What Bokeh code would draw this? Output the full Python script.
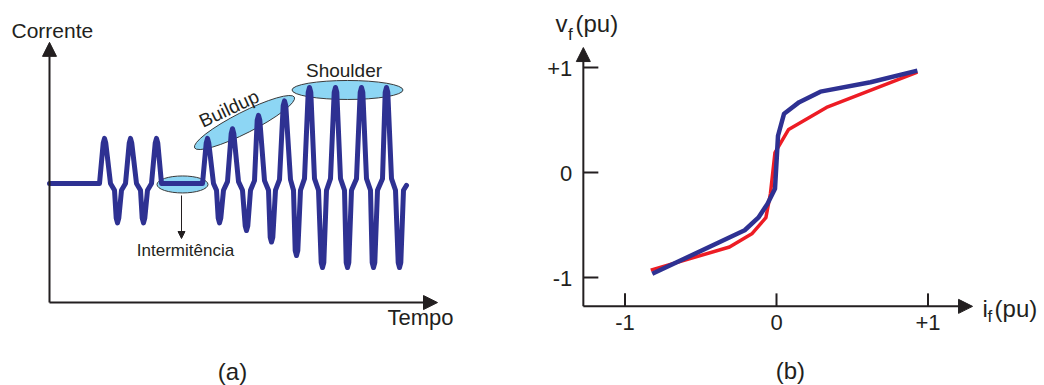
import math
from bokeh.plotting import figure
from bokeh.layouts import row
from bokeh.models import Range1d, Arrow, NormalHead
from bokeh.core.properties import value
from bokeh.embed import file_html
from bokeh.resources import INLINE

# ---------------- data ----------------
# (a) schematic current vs time (arbitrary units), vertices of the waveform
wave_t = [0, 50,
          53.7, 55, 56.3, 61, 65, 66.7, 68, 69.3, 72, 76,
          79.7, 81, 82.3, 87, 91, 92.7, 94, 95.3, 98, 102,
          105.7, 107, 108.3, 112, 153,
          156.7, 158, 159.3, 164, 167, 168.7, 170, 171.3, 174, 178,
          181.7, 183, 184.3, 189, 193, 195.7, 197, 198.3, 201, 205,
          207.7, 209, 210.3, 215, 219, 220.7, 222, 223.3, 226, 230,
          233.7, 235, 236.3, 241, 244, 245.7, 247, 248.3, 251, 255,
          258.7, 260, 261.3, 265, 269, 271.7, 273, 274.3, 277, 281,
          284.7, 286, 287.3, 291, 295, 296.7, 298, 299.3, 302, 307,
          310.7, 312, 313.3, 317, 321, 322.7, 324, 325.3, 328, 333,
          335.7, 337, 338.3, 342, 346, 348.7, 350, 351.3, 354, 357]
wave_i = [0, 0,
          0.42, 0.47, 0.42, 0, -0.07, -0.36, -0.41, -0.36, -0.07, 0,
          0.42, 0.47, 0.42, 0, -0.07, -0.36, -0.41, -0.36, -0.07, 0,
          0.42, 0.47, 0.42, 0, 0,
          0.42, 0.47, 0.42, 0, -0.07, -0.36, -0.41, -0.36, -0.07, 0.02,
          0.52, 0.57, 0.52, 0.02, -0.07, -0.44, -0.49, -0.44, -0.07, 0.03,
          0.66, 0.71, 0.66, 0.03, -0.07, -0.56, -0.61, -0.56, -0.07, 0.04,
          0.81, 0.86, 0.81, 0.04, -0.07, -0.70, -0.75, -0.70, -0.07, 0.05,
          0.95, 1.0, 0.95, 0.05, -0.07, -0.825, -0.875, -0.825, -0.07, 0.05,
          0.95, 1.0, 0.95, 0.05, -0.07, -0.825, -0.875, -0.825, -0.07, 0.05,
          0.95, 1.0, 0.95, 0.05, -0.07, -0.825, -0.875, -0.825, -0.07, 0.05,
          0.95, 1.0, 0.95, 0.05, -0.07, -0.825, -0.875, -0.825, -0.07, -0.02]

# (b) v_f versus i_f characteristics (pu)
red_if = [-0.83, -0.31, -0.16, -0.07, -0.04, -0.01, 0.08, 0.33, 0.93]
red_vf = [-0.93, -0.71, -0.58, -0.43, -0.20, 0.19, 0.41, 0.62, 0.955]
blue_if = [-0.82, -0.21, -0.12, -0.06, -0.01, 0.01, 0.05, 0.15, 0.29, 0.62, 0.93]
blue_vf = [-0.965, -0.55, -0.43, -0.30, -0.155, 0.35, 0.56, 0.67, 0.77, 0.86, 0.97]

tick_vals = [-1, 0, 1]
tick_labels = ["-1", "0", "+1"]

# ---------------- styles ----------------
AX = "#231f20"
BLUE = "#2e3192"
RED = "#ed1c24"
FILL = "#8dd6f4"
FONT = value("Liberation Sans")


def make_fig(xr, yr):
    p = figure(width=522, height=385, x_range=Range1d(*xr), y_range=Range1d(*yr),
               output_backend="svg", toolbar_location=None,
               x_axis_type=None, y_axis_type=None, min_border=0,
               outline_line_color=None, background_fill_color="white",
               border_fill_color="white")
    return p


def txt(p, x, y, s, size, align="left", baseline="middle", angle=0.0,
        xo=0, yo=0):
    p.text(x=[x], y=[y], text=[s], text_font=FONT, text_font_size=size,
           text_color=AX, text_align=align, text_baseline=baseline,
           angle=angle, x_offset=xo, y_offset=yo)


# ---------------- panel (a) ----------------
pa = make_fig((-49, 473), (-2.104, 1.906))
ax0_y = -1.24
pa.add_layout(Arrow(end=NormalHead(size=14, fill_color=AX, line_color=AX),
                    x_start=0, y_start=ax0_y, x_end=0, y_end=1.47,
                    line_width=2, line_color=AX))
pa.add_layout(Arrow(end=NormalHead(size=14, fill_color=AX, line_color=AX),
                    x_start=0, y_start=ax0_y, x_end=388, y_end=ax0_y,
                    line_width=2, line_color=AX))

# highlight ellipses
pa.ellipse(x=[133, 195, 298], y=[-0.01, 0.635, 0.974],
           width=[51, 112, 111], height=[17, 21, 19],
           angle=[0, 0.47, 0],
           width_units="screen", height_units="screen",
           fill_color=FILL, line_color="#3a3a3a", line_width=1)

pa.line(wave_t, wave_i, line_color=BLUE, line_width=5, line_join="round",
        line_cap="round")

pa.add_layout(Arrow(end=NormalHead(size=7, fill_color=AX, line_color=AX),
                    x_start=132, y_start=-0.125, x_end=132, y_end=-0.573,
                    line_width=1, line_color=AX))

txt(pa, -38, 1.594, "Corrente", "21px")
txt(pa, 338, -1.391, "Tempo", "22px")
txt(pa, 294.5, 1.182, "Shoulder", "19px", align="center")
txt(pa, 179.5, 0.78, "Buildup", "19px", align="center", angle=0.44)
txt(pa, 136, -0.703, "Intermitência", "17px", align="center")
txt(pa, 183, -1.953, "(a)", "24px", align="center")

# ---------------- panel (b) ----------------
pb = make_fig((-1.6766, 1.7690), (-2.0286, 1.6381))
org = -1.275
pb.add_layout(Arrow(end=NormalHead(size=14, fill_color=AX, line_color=AX),
                    x_start=org, y_start=org, x_end=org, y_end=1.19,
                    line_width=2, line_color=AX))
pb.add_layout(Arrow(end=NormalHead(size=14, fill_color=AX, line_color=AX),
                    x_start=org, y_start=org, x_end=1.294, y_end=org,
                    line_width=2, line_color=AX))

# ticks (inward) and tick labels
pb.ray(x=[org] * len(tick_vals), y=tick_vals, length=15, length_units="screen",
       angle=0, line_color=AX, line_width=2)
pb.ray(x=tick_vals, y=[org] * len(tick_vals), length=13, length_units="screen",
       angle=math.pi / 2, line_color=AX, line_width=2)
pb.text(x=[org] * len(tick_vals), y=tick_vals, text=tick_labels, text_font=FONT,
        text_font_size="22px", text_color=AX, text_align="right",
        text_baseline="middle", x_offset=-11, y_offset=1)
pb.text(x=tick_vals, y=[org] * len(tick_vals), text=tick_labels, text_font=FONT,
        text_font_size="22px", text_color=AX, text_align="center",
        text_baseline="top", y_offset=9)

pb.line(red_if, red_vf, line_color=RED, line_width=3.5, line_join="round")
pb.line(blue_if, blue_vf, line_color=BLUE, line_width=4.5, line_join="round")

# axis titles with subscripts
txt(pb, -1.459, 1.419, "v", "24px")
txt(pb, -1.459, 1.419, "f", "17px", xo=12.5, yo=11)
txt(pb, -1.459, 1.419, "(pu)", "24px", xo=20)
txt(pb, 1.360, -1.295, "i", "24px")
txt(pb, 1.360, -1.295, "f", "17px", xo=5, yo=8)
txt(pb, 1.360, -1.295, "(pu)", "24px", xo=12)
txt(pb, 0.092, -1.890, "(b)", "24px", align="center")

layout = row(pa, pb)
open("out.html", "w").write(file_html(layout, INLINE))
